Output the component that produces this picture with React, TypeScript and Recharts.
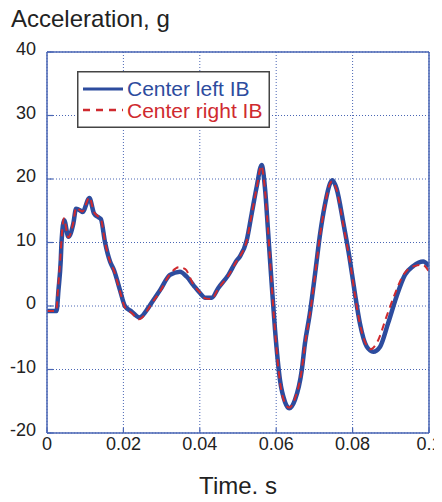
import { CartesianGrid, Legend, Line, LineChart, XAxis, YAxis } from "recharts";

// time (s) / acceleration (g)
const timeLeft = [
  0, 0.0025, 0.003, 0.0036, 0.0038, 0.0045, 0.0056, 0.0069, 0.0076, 0.0088, 0.0093, 0.0111,
  0.0123, 0.0134, 0.0141, 0.0152, 0.0165, 0.0175, 0.0191, 0.0204, 0.0222, 0.0242, 0.0265,
  0.027, 0.0296, 0.0322, 0.0348, 0.0366, 0.0383, 0.0401, 0.0414, 0.0431, 0.0448, 0.0475,
  0.0497, 0.0505, 0.0523, 0.0536, 0.0549, 0.0562, 0.0571, 0.0579, 0.0588, 0.0597, 0.061,
  0.0623, 0.0634, 0.0649, 0.0667, 0.0675, 0.0688, 0.0702, 0.0715, 0.0728, 0.0741, 0.0747,
  0.0758, 0.0776, 0.0793, 0.0806, 0.0819, 0.0837, 0.0854, 0.0872, 0.0893, 0.0915, 0.0937,
  0.0959, 0.0985, 0.1,
];
const accLeft = [
  -0.8, -0.8, 2.5, 7.2, 10, 13.5, 10.9, 13, 15.3, 15, 14.8, 17,
  14.6, 14, 13.7, 10, 7, 5.7, 2.5, 0, -0.9, -1.8, -0.3,
  0.15, 2.5, 4.9, 5.4, 4.6, 3.3, 2, 1.3, 1.3, 2.8, 4.9,
  7.2, 7.8, 10.4, 14.6, 18.8, 22.2, 18.3, 11.5, 3.6, -3.8, -11.7,
  -15.1, -16.1, -14.8, -10.1, -6, -1.2, 5.2, 11.4, 16.1, 19.3, 19.8,
  18.5, 13, 7.2, 2, -2.7, -6.4, -7.2, -6.4, -2.7, 1.5, 4.9,
  6.3, 7, 6.2,
];

const timeRight = [
  0, 0.0024, 0.0029, 0.0035, 0.0038, 0.0044, 0.0056, 0.0069, 0.0076, 0.0088, 0.0093, 0.0111,
  0.0123, 0.0134, 0.0141, 0.0152, 0.0165, 0.0175, 0.0191, 0.0204, 0.0222, 0.024, 0.0265,
  0.027, 0.0296, 0.0322, 0.0345, 0.0362, 0.0383, 0.0401, 0.0414, 0.0431, 0.0448, 0.0475,
  0.0497, 0.0505, 0.0523, 0.0536, 0.0549, 0.0561, 0.057, 0.0579, 0.0588, 0.0597, 0.061,
  0.0623, 0.0634, 0.0649, 0.0667, 0.0675, 0.0688, 0.0702, 0.0715, 0.0728, 0.0741, 0.0746,
  0.0758, 0.0776, 0.0793, 0.0806, 0.0819, 0.0835, 0.0848, 0.0866, 0.0888, 0.091, 0.0933,
  0.0957, 0.0983, 0.1,
];
const accRight = [
  -0.8, -0.8, 2.8, 7.6, 10.5, 13.8, 10.8, 13.2, 15.5, 15, 14.9, 17.1,
  14.8, 14.1, 13.7, 10, 7, 5.6, 2.3, -0.2, -1.1, -2.1, -0.5,
  0, 2.3, 5, 6.1, 5.8, 3.4, 2.1, 1.2, 1.1, 2.7, 4.8,
  7.1, 7.8, 10.3, 14.5, 18.6, 22.1, 18.6, 11.7, 3.5, -4, -12,
  -15.3, -16, -14.6, -10, -6.2, -1.4, 5, 11.2, 16, 19.3, 19.6,
  18.3, 12.6, 7, 1.8, -2.8, -6, -6.8, -5.5, -1.8, 1.8, 4.9,
  6.2, 6.5, 5.4,
];

const xTicks = [0, 0.02, 0.04, 0.06, 0.08, 0.1];
const yTicks = [-20, -10, 0, 10, 20, 30, 40];

const leftData = timeLeft.map((t, i) => ({ t, g: accLeft[i] }));
const rightData = timeRight.map((t, i) => ({ t, g: accRight[i] }));

const BLUE = "#2d4c9e";
const RED = "#cf2a2f";
const AXIS = "#4a66b4";
const FONT = "Arial, 'Liberation Sans', Helvetica, sans-serif";

const YTick = ({ x, y, payload }: any) => (
  <text x={x} y={y - 3} dy="0.355em" textAnchor="end" fontSize={18} fill="#222" fontFamily={FONT}>
    {payload.value}
  </text>
);

const XTick = ({ x, y, payload }: any) => (
  <text x={x} y={y} dy="0.71em" textAnchor="middle" fontSize={18} fill="#222" fontFamily={FONT}>
    {String(payload.value)}
  </text>
);

const NoLabel = () => null;

const LegendBox = () => (
  <svg width={193} height={57} style={{ display: "block" }}>
    <rect x={0.75} y={0.75} width={191.5} height={55.5} fill="#fff" stroke="#444" strokeWidth={1.5} />
    <line x1={6} y1={18} x2={46} y2={18} stroke={BLUE} strokeWidth={3} />
    <text x={50} y={25} fontSize={21} fill={BLUE} fontFamily={FONT}>
      Center left IB
    </text>
    <line x1={6} y1={39} x2={46} y2={39} stroke={RED} strokeWidth={2.5} strokeDasharray="7 6" />
    <text x={50} y={47} fontSize={21} fill={RED} fontFamily={FONT}>
      Center right IB
    </text>
  </svg>
);

export default function App() {
  return (
    <div style={{ position: "relative", margin: -8, width: 442, height: 502 }}>
      <LineChart width={442} height={502} margin={{ top: 51, right: 12, bottom: 29, left: 8 }}>
        <CartesianGrid stroke={AXIS} strokeDasharray="1 2" strokeWidth={1} />
        <XAxis
          dataKey="t"
          type="number"
          domain={[0, 0.1]}
          ticks={xTicks}
          height={40}
          tickSize={-5}
          tickMargin={9}
          tick={<XTick />}
          tickLine={{ stroke: AXIS, strokeWidth: 1.2 }}
          stroke={AXIS}
          strokeWidth={1.5}
          allowDataOverflow
        />
        <XAxis
          xAxisId="top"
          orientation="top"
          type="number"
          domain={[0, 0.1]}
          ticks={xTicks}
          height={1}
          tickSize={-5}
          tick={<NoLabel />}
          tickLine={{ stroke: AXIS, strokeWidth: 1.2 }}
          stroke={AXIS}
          strokeWidth={1.5}
        />
        <YAxis
          type="number"
          domain={[-20, 40]}
          ticks={yTicks}
          width={39}
          tickSize={-6}
          tickMargin={17}
          tick={<YTick />}
          tickLine={{ stroke: AXIS, strokeWidth: 1.2 }}
          stroke={AXIS}
          strokeWidth={1.5}
        />
        <YAxis
          yAxisId="right"
          orientation="right"
          type="number"
          domain={[-20, 40]}
          ticks={yTicks}
          width={1}
          tickSize={-6}
          tick={<NoLabel />}
          tickLine={{ stroke: AXIS, strokeWidth: 1.2 }}
          stroke={AXIS}
          strokeWidth={1.5}
        />
        <Legend
          layout="horizontal"
          align="center"
          verticalAlign="middle"
          content={<LegendBox />}
          wrapperStyle={{ left: 77, top: 71, width: 193, height: 57 }}
        />
        <Line data={leftData} dataKey="g" name="Center left IB" type="monotoneX" stroke={BLUE} strokeWidth={4.5} dot={false} isAnimationActive={false} />
        <Line data={rightData} dataKey="g" name="Center right IB" type="monotoneX" stroke={RED} strokeWidth={2} strokeDasharray="7 5" dot={false} isAnimationActive={false} />
      </LineChart>
      <svg width={442} height={502} style={{ position: "absolute", left: 0, top: 0, pointerEvents: "none", overflow: "visible" }}>
        <text x={11} y={27} fontSize={24} fill="#222" fontFamily={FONT}>
          Acceleration, g
        </text>
        <text x={238} y={494} fontSize={24} fill="#222" textAnchor="middle" fontFamily={FONT}>
          Time, s
        </text>
      </svg>
    </div>
  );
}
